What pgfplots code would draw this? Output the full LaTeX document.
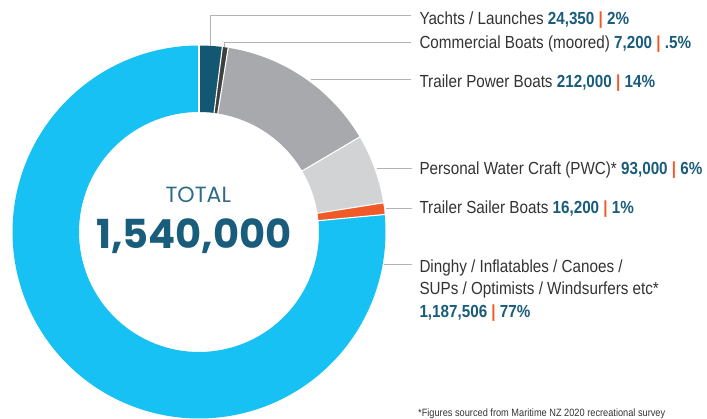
\documentclass[border=0pt]{standalone}
\usepackage{pgfplots}
\pgfplotsset{compat=1.18}
\usepackage{fontspec}
\setmainfont{Liberation Sans}[FakeStretch=0.87]
\newfontfamily\pop{Poppins}
\definecolor{cDinghy}{HTML}{17C1F3}
\definecolor{cYacht}{HTML}{135773}
\definecolor{cComm}{HTML}{3F3F3F}
\definecolor{cPower}{HTML}{A7A9AC}
\definecolor{cPWC}{HTML}{D1D3D4}
\definecolor{cSailer}{HTML}{F05A28}
\definecolor{numc}{HTML}{1A5C7B}
\definecolor{txtc}{HTML}{333333}
\definecolor{leadc}{HTML}{B3B3B3}
\definecolor{totc}{HTML}{2F6B86}
% shares of the ring (percent), clockwise from the top
\def\pA{2}    % Yachts / Launches
\def\pB{0.5}  % Commercial Boats (moored)
\def\pC{14}   % Trailer Power Boats
\def\pD{6}    % Personal Water Craft
\def\pE{1}    % Trailer Sailer Boats
\def\pF{76.5} % Dinghy etc.
\pgfmathsetmacro\aA{90}
\pgfmathsetmacro\aB{\aA-3.6*\pA}
\pgfmathsetmacro\aC{\aB-3.6*\pB}
\pgfmathsetmacro\aD{\aC-3.6*\pC}
\pgfmathsetmacro\aE{\aD-3.6*\pD}
\pgfmathsetmacro\aF{\aE-3.6*\pE}
\pgfmathsetmacro\aG{\aF-3.6*\pF}
\def\cx{199}\def\cy{187}\def\rm{153.25}
\newcommand{\lbl}{\fontsize{17.5bp}{21bp}\selectfont\color{txtc}}
\newcommand{\num}[1]{{\bfseries\color{numc}#1}}
\newcommand{\sep}{{\bfseries\color{cSailer}|}}
\begin{document}
\begin{tikzpicture}
\useasboundingbox (0,0) rectangle (707bp,419bp);
\begin{axis}[at={(0,0)}, anchor=south west, width=707bp, height=419bp,
  scale only axis, xmin=0, xmax=707, ymin=0, ymax=419, hide axis, clip=false]
% ring slices
\addplot[line width=66.5bp, color=cYacht, domain=\aB:\aA, samples=10] ({\cx+\rm*cos(x)},{\cy+\rm*sin(x)});
\addplot[line width=66.5bp, color=cComm, domain=\aC:\aB, samples=4] ({\cx+\rm*cos(x)},{\cy+\rm*sin(x)});
\addplot[line width=66.5bp, color=cPower, domain=\aD:\aC, samples=40] ({\cx+\rm*cos(x)},{\cy+\rm*sin(x)});
\addplot[line width=66.5bp, color=cPWC, domain=\aE:\aD, samples=20] ({\cx+\rm*cos(x)},{\cy+\rm*sin(x)});
\addplot[line width=66.5bp, color=cSailer, domain=\aF:\aE, samples=6] ({\cx+\rm*cos(x)},{\cy+\rm*sin(x)});
\addplot[line width=66.5bp, color=cDinghy, domain=\aG:\aF, samples=160] ({\cx+\rm*cos(x)},{\cy+\rm*sin(x)});
% white separators
\foreach \a in {\aA,\aB,\aC,\aD,\aE,\aF}{
  \edef\tmp{\noexpand\addplot[white, line width=1.1bp, domain=118:190, samples=2] ({\cx+x*cos(\a)},{\cy+x*sin(\a)});}
  \tmp
}
% leader lines
\addplot[leadc, line width=1bp] coordinates {(210.7,373) (210.7,403) (410.7,403)};
\addplot[leadc, line width=1bp] coordinates {(224,372) (224,376.7) (410.7,376.7)};
\addplot[leadc, line width=1bp] coordinates {(310.7,339) (410.7,339)};
\addplot[leadc, line width=1bp] coordinates {(377.3,250) (411.7,250)};
\addplot[leadc, line width=1bp] coordinates {(386,210.7) (411.7,210.7)};
\addplot[leadc, line width=1bp] coordinates {(384,154) (411.7,154)};
% labels
\node[anchor=base west, inner sep=0] at (axis cs:419.3,394) {\lbl Yachts / Launches \num{24,350} \sep{} \num{2\%}};
\node[anchor=base west, inner sep=0] at (axis cs:419.3,370.7) {\lbl Commercial Boats (moored) \num{7,200} \sep{} \num{.5\%}};
\node[anchor=base west, inner sep=0] at (axis cs:419.3,331.7) {\lbl Trailer Power Boats \num{212,000} \sep{} \num{14\%}};
\node[anchor=base west, inner sep=0] at (axis cs:419.3,244.7) {\lbl Personal Water Craft (PWC)* \num{93,000} \sep{} \num{6\%}};
\node[anchor=base west, inner sep=0] at (axis cs:419.3,205.7) {\lbl Trailer Sailer Boats \num{16,200} \sep{} \num{1\%}};
\node[anchor=base west, inner sep=0] at (axis cs:419.3,146.7) {\lbl Dinghy / Inflatables / Canoes /};
\node[anchor=base west, inner sep=0] at (axis cs:419.3,124) {\lbl SUPs / Optimists / Windsurfers etc*};
\node[anchor=base west, inner sep=0] at (axis cs:419.3,101.7) {\lbl \num{1,187,506} \sep{} \num{77\%}};
\node[anchor=base west, inner sep=0] at (axis cs:418,3) {\fontsize{10.6bp}{12bp}\selectfont\color{txtc}*Figures sourced from Maritime NZ 2020 recreational survey};
% centre
\node[anchor=base, inner sep=0] at (axis cs:198.3,216.3) {\pop\fontsize{22bp}{26bp}\selectfont\color{totc}TOTAL};
\node[anchor=base, inner sep=0] at (axis cs:193.7,170.7) {\pop\bfseries\fontsize{40bp}{48bp}\selectfont\color{numc}1,540,000};
\end{axis}
\end{tikzpicture}
\end{document}
